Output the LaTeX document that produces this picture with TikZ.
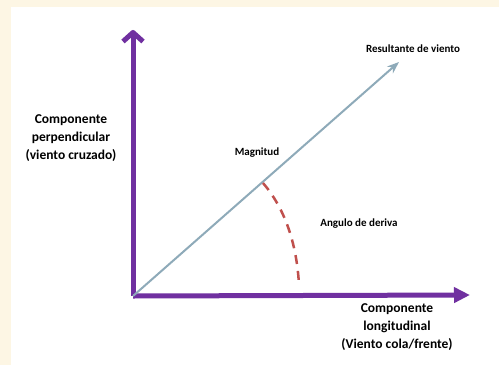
\documentclass[tikz,border=0pt]{standalone}
\usepackage{fontspec}
\setmainfont{Carlito}
\usepackage{xcolor}
\usetikzlibrary{arrows.meta,positioning}
\definecolor{axispurple}{HTML}{7030A0}
\definecolor{vecblue}{HTML}{8EAAB9}
\definecolor{dashred}{HTML}{C0504D}
\definecolor{cream}{HTML}{FDF6E4}

\begin{document}
\begin{tikzpicture}[
  x=1pt, y=-1pt,
  axis/.style={draw=axispurple,line width=5pt},
  biglabel/.style={align=center,font=\bfseries\fontsize{13.5}{18}\selectfont},
  smalllabel/.style={font=\bfseries\fontsize{11}{13}\selectfont},
  >=Stealth
]
  \useasboundingbox (0,0) rectangle (499,365);
  \fill[cream] (0,0) rectangle (499,365);
  \fill[white] (11,7) rectangle (499,365);
  \coordinate (o) at (133,296);
  \coordinate (ytip) at (133,30);
  \coordinate (xtip) at (470,295);
  \coordinate (rtip) at (399,62);
  \coordinate (arcstart) at (263,183);
  \coordinate (arcend) at (299,285);
  \draw[axis,-{Straight Barb[length=9pt,width=20pt,line join=round]}] (o) -- (ytip);
  \draw[axis,-{Triangle[length=16pt,width=15pt]}] (o) -- (xtip);
  \draw[->,vecblue,line width=2pt] (o) -- (rtip);
  % angle between the resultant and the long axis
  \draw[dashred,line width=2.5pt,dash pattern=on 9pt off 7pt]
    (arcstart) .. controls (287,211) and (297,248) .. (arcend);
  \node[biglabel] (perp) at (71,138) {Componente\\perpendicular\\(viento cruzado)};
  \node[biglabel] (longi) at (397,327) {Componente\\longitudinal\\(Viento cola/frente)};
  \node[smalllabel] (mag) at (257,153) {Magnitud};
  \node[smalllabel] (res) at (413,49) {Resultante de viento};
  \node[smalllabel] (ang) at (359,224) {Angulo de deriva};
\end{tikzpicture}
\end{document}
